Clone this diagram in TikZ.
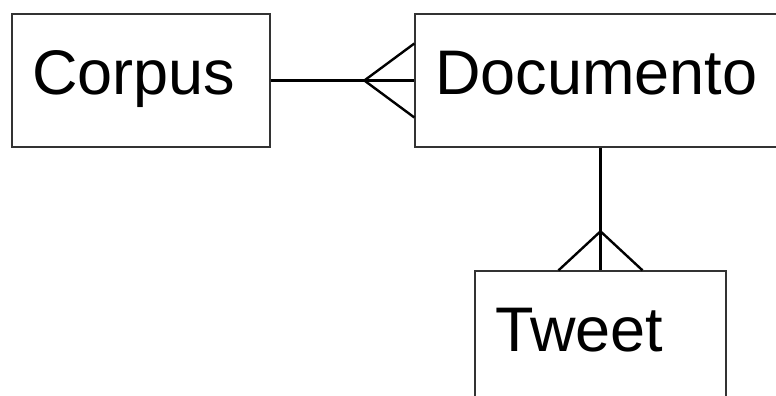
\documentclass[tikz,border=0pt]{standalone}
\usepackage{fontspec}
\setmainfont{Liberation Sans}
\usetikzlibrary{calc}
\begin{document}
\begin{tikzpicture}[x=1pt,y=1pt,
  entity/.style={draw=black!80, line width=1.3pt, rectangle, inner xsep=20pt, inner ysep=0pt,
    minimum height=133pt, align=left, text height=45pt, text depth=18pt,
    font=\fontsize{63pt}{70pt}\selectfont},
  rel/.style={draw=black, line width=2.4pt}]
\useasboundingbox (0,0) rectangle (776,-396);
\clip (0,0) rectangle (776,-396);
\fill[white] (0,0) rectangle (776,-396);
\node[entity, text width=218pt] (corpus) at (141,-80.5) {Corpus};
\node[entity, text width=331pt] (doc) at (600.5,-80.5) {Documento};
\node[entity, text width=211pt] (tweet) at (600.5,-337.5) {Tweet};
% Corpus -- Documento (many at Documento)
\coordinate (a1) at ($(doc.west)+(-50,0)$);
\coordinate (p1) at ($(doc.west)+(0,37)$);
\coordinate (q1) at ($(doc.west)+(0,-37)$);
\draw[rel] (corpus.east) -- (doc.west);
\draw[rel] (p1) -- (a1) -- (q1);
% Documento -- Tweet (many at Tweet)
\coordinate (a2) at ($(tweet.north)+(0,39)$);
\coordinate (p2) at ($(tweet.north)+(-42,0)$);
\coordinate (q2) at ($(tweet.north)+(42,0)$);
\draw[rel] (doc.south) -- (tweet.north);
\draw[rel] (p2) -- (a2) -- (q2);
\end{tikzpicture}
\end{document}
